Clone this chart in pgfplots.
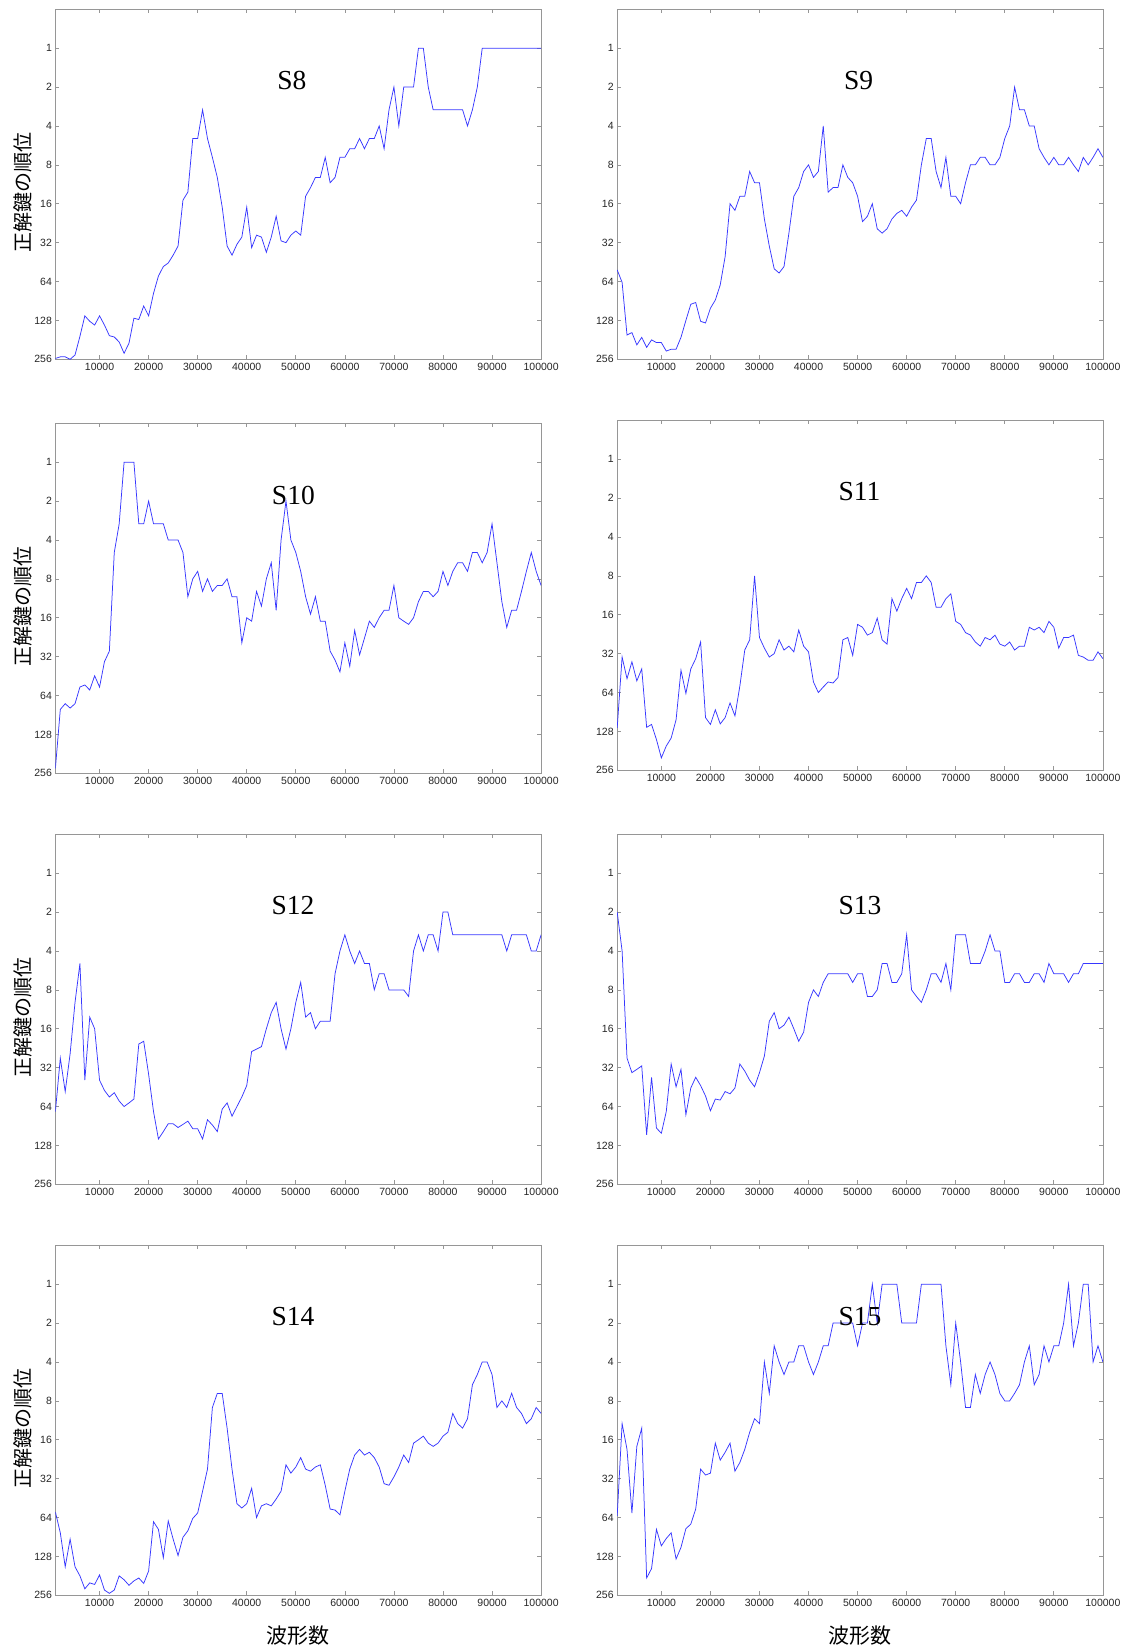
\documentclass[border=0pt]{standalone}
\usepackage{pgfplots}
\pgfplotsset{compat=1.18}
\usepackage{pgfplotstable}
\usepackage{fontspec}
\setmainfont{Liberation Serif}
\newfontfamily\ticksans{Liberation Sans}
\newfontfamily\jp{Noto Sans CJK JP}

% rank of the correct key after k*1000 traces, for S8 ... S15
\pgfplotstableread{
k s8 s9 s10 s11 s12 s13 s14 s15
1 252 52 234 120 70 2 58 62
2 245 65 82 34 27 4 84 12
3 245 166 74 50 49 27 154 19
4 256 159 80 37 25 35 94 59
5 237 198 74 52 10 33 154 18
6 170 173 55 42 5 31 181 13
7 118 207 53 119 40 106 228 188
8 130 181 58 113 13 38 205 159
9 139 190 45 148 16 94 211 79
10 118 190 55 205 40 103 178 106
11 139 221 35 166 48 70 233 93
12 168 214 29 144 54 30 247 84
13 172 214 5 104 50 45 233 134
14 188 173 3 43 58 33 181 109
15 230 128 1 65 64 74 194 78
16 192 96 1 42 60 46 214 72
17 123 93 1 35 56 38 198 55
18 126 130 3 26 21 44 188 27
19 99 134 3 100 20 53 207 30
20 118 103 2 113 36 69 166 29
21 79 89 3 87 70 56 69 17
22 58 68 3 112 114 57 79 23
23 49 41 3 100 100 49 131 20
24 46 16 4 77 87 51 68 17
25 40 18 4 97 87 46 94 28
26 34 14 4 57 93 30 126 24
27 15 14 5 30 88 34 91 19
28 13 9 11 25 83 40 81 14
29 5 11 8 8 95 45 65 11
30 5 11 7 24 95 35 59 12
31 3 21 10 29 114 26 40 4
32 5 34 8 34 81 14 27 7
33 7 51 10 32 89 12 9 3
34 10 55 9 25 100 16 7 4
35 17 49 9 30 67 15 7 5
36 34 27 8 28 60 13 13 4
37 40 14 11 31 76 16 27 4
38 33 12 11 21 64 20 50 3
39 29 9 25 28 54 17 54 3
40 17 8 16 31 44 10 50 4
41 35 10 17 53 24 8 38 5
42 28 9 10 64 23 9 64 4
43 29 4 13 58 22 7 52 3
44 38 13 8 53 16 6 50 3
45 29 12 6 54 12 6 52 2
46 20 12 14 49 10 6 46 2
47 31 8 4 25 16 6 40 2
48 32 10 2 24 23 6 25 2
49 28 11 4 33 16 7 29 2
50 26 14 5 19 10 6 26 3
51 28 22 7 20 7 6 22 2
52 14 20 11 23 13 9 27 2
53 12 16 15 22 12 9 28 1
54 10 25 11 17 16 8 26 2
55 10 27 17 25 14 5 25 1
56 7 25 17 27 14 5 36 1
57 11 21 29 12 14 7 55 1
58 10 19 34 15 6 7 56 1
59 7 18 42 12 4 6 61 2
60 7 20 25 10 3 3 40 2
61 6 17 38 12 4 8 27 2
62 6 15 20 9 5 9 21 2
63 5 8 31 9 4 10 19 1
64 6 5 23 8 5 8 21 1
65 5 5 17 9 5 6 20 1
66 5 9 19 14 8 6 22 1
67 4 12 16 14 6 7 26 1
68 6 7 14 12 6 5 35 3
69 3 14 14 11 8 8 36 6
70 2 14 9 18 8 3 31 2
71 4 16 16 19 8 3 26 4
72 2 11 17 22 8 3 21 9
73 2 8 18 23 9 5 24 9
74 2 8 16 26 4 5 17 5
75 1 7 12 28 3 5 16 7
76 1 7 10 24 4 4 15 5
77 2 8 10 25 3 3 17 4
78 3 8 11 23 3 4 18 5
79 3 7 10 27 4 4 17 7
80 3 5 7 28 2 7 15 8
81 3 4 9 26 2 7 14 8
82 3 2 7 30 3 6 10 7
83 3 3 6 28 3 6 12 6
84 3 3 6 28 3 7 13 4
85 4 4 7 20 3 7 11 3
86 3 4 5 21 3 6 6 6
87 2 6 5 20 3 6 5 5
88 1 7 6 22 3 7 4 3
89 1 8 5 18 3 5 4 4
90 1 7 3 20 3 6 5 3
91 1 8 6 29 3 6 9 3
92 1 8 12 24 3 6 8 2
93 1 7 19 24 4 7 9 1
94 1 8 14 23 3 6 7 3
95 1 9 14 33 3 6 9 2
96 1 7 10 34 3 5 10 1
97 1 8 7 36 3 5 12 1
98 1 7 5 36 4 5 11 4
99 1 6 7 31 4 5 9 3
100 1 7 9 35 3 5 10 4
}\ranks

\definecolor{traceblue}{RGB}{55,55,255}
\definecolor{framegray}{RGB}{150,150,150}

% settings shared by all eight panels
\pgfplotsset{
  scale only axis, width=485.7pt, height=350pt,
  xmin=1000, xmax=100000,
  y dir=reverse,
  ymin=0.5, ymax=256,
  scaled x ticks=false,
  xtick={10000,20000,30000,40000,50000,60000,70000,80000,90000,100000},
  xticklabels={10000,20000,30000,40000,50000,60000,70000,80000,90000,100000},
  ytick={1,2,4,8,16,32,64,128,256},
  yticklabels={1,2,4,8,16,32,64,128,256},
  minor tick num=0,
  tick pos=both, ticklabel pos=left,
  tick align=inside, major tick length=4pt,
  axis line style={draw=framegray, line width=0.8pt},
  major tick style={draw=framegray, line width=0.7pt},
  tick label style={font=\ticksans\fontsize{10.5}{12}\selectfont, text=black!85},
  ylabel style={at={(rel axis cs:-0.067,0.477)}, anchor=center,
    font=\jp\fontsize{20}{22}\selectfont},
  xlabel style={at={(rel axis cs:0.5,-0.116)}, anchor=center,
    font=\jp\fontsize{21}{23}\selectfont},
}
\tikzset{
  trace/.style={draw=traceblue, line width=0.75pt},
  sname/.style={font=\fontsize{27.5}{30}\selectfont, anchor=center},
}

\begin{document}
\begin{tikzpicture}
\useasboundingbox (0pt,0pt) rectangle (1131pt,-1652pt);

% row 1
\begin{axis}[ymode=log, log basis y=2, at={(55.4pt,-9.3pt)}, anchor=north west, ylabel={正解鍵の順位}]
  \addplot[trace, no marks] table[x expr=\thisrow{k}*1000, y=s8] {\ranks};
  \node[sname] at (rel axis cs:0.487,0.796) {S8};
\end{axis}
\begin{axis}[ymode=log, log basis y=2, at={(617.2pt,-9.3pt)}, anchor=north west]
  \addplot[trace, no marks] table[x expr=\thisrow{k}*1000, y=s9] {\ranks};
  \node[sname] at (rel axis cs:0.497,0.796) {S9};
\end{axis}

% row 2
\begin{axis}[ymode=log, log basis y=2, at={(55.4pt,-423.3pt)}, anchor=north west, ylabel={正解鍵の順位}]
  \addplot[trace, no marks] table[x expr=\thisrow{k}*1000, y=s10] {\ranks};
  \node[sname] at (rel axis cs:0.49,0.795) {S10};
\end{axis}
\begin{axis}[ymode=log, log basis y=2, at={(617.2pt,-420.3pt)}, anchor=north west]
  \addplot[trace, no marks] table[x expr=\thisrow{k}*1000, y=s11] {\ranks};
  \node[sname] at (rel axis cs:0.499,0.796) {S11};
\end{axis}

% row 3
\begin{axis}[ymode=log, log basis y=2, at={(55.4pt,-834.3pt)}, anchor=north west, ylabel={正解鍵の順位}]
  \addplot[trace, no marks] table[x expr=\thisrow{k}*1000, y=s12] {\ranks};
  \node[sname] at (rel axis cs:0.489,0.796) {S12};
\end{axis}
\begin{axis}[ymode=log, log basis y=2, at={(617.2pt,-834.3pt)}, anchor=north west]
  \addplot[trace, no marks] table[x expr=\thisrow{k}*1000, y=s13] {\ranks};
  \node[sname] at (rel axis cs:0.5,0.796) {S13};
\end{axis}

% row 4
\begin{axis}[ymode=log, log basis y=2, at={(55.4pt,-1245.3pt)}, anchor=north west, ylabel={正解鍵の順位}, xlabel={波形数}]
  \addplot[trace, no marks] table[x expr=\thisrow{k}*1000, y=s14] {\ranks};
  \node[sname] at (rel axis cs:0.489,0.796) {S14};
\end{axis}
\begin{axis}[ymode=log, log basis y=2, at={(617.2pt,-1245.3pt)}, anchor=north west, xlabel={波形数}]
  \addplot[trace, no marks] table[x expr=\thisrow{k}*1000, y=s15] {\ranks};
  \node[sname] at (rel axis cs:0.5,0.796) {S15};
\end{axis}
\end{tikzpicture}
\end{document}
